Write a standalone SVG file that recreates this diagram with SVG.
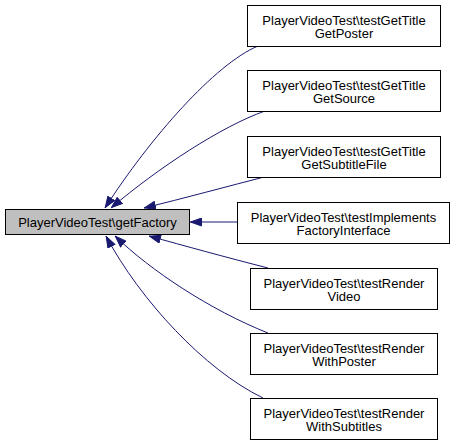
<svg xmlns="http://www.w3.org/2000/svg" width="455" height="444" viewBox="0 0 455 444">
<style>
.node rect{fill:#ffffff;stroke:#000000;stroke-width:1}
.main rect{fill:#bfbfbf}
text{font-family:"Liberation Sans",Arial,sans-serif;font-size:13px;fill:#000000;text-anchor:middle}
.edge{fill:none;stroke:#191970;stroke-width:1}
</style>
<defs>
<marker id="arr" viewBox="0 0 12 9" refX="12" refY="4.5" markerWidth="12" markerHeight="9" markerUnits="userSpaceOnUse" orient="auto">
<path d="M0.5,0.5 L11.5,4.5 L0.5,8.5 Z" fill="#191970" stroke="#191970" stroke-width="1"/>
</marker>
</defs>
<g id="connectors">
<path class="edge" marker-end="url(#arr)" d="M258,46 C215,64 150,138 105,208"/>
<path class="edge" marker-end="url(#arr)" d="M265,111 C222,126 158,168 111,208"/>
<path class="edge" marker-end="url(#arr)" d="M268,176 C225,187 185,198 144,208"/>
<path class="edge" marker-end="url(#arr)" d="M237,222 L190,222"/>
<path class="edge" marker-end="url(#arr)" d="M268,268 C225,257 185,246 149,236"/>
<path class="edge" marker-end="url(#arr)" d="M268,333 C210,310 150,270 115,236"/>
<path class="edge" marker-end="url(#arr)" d="M263,398 C205,370 140,300 106,236"/>
</g>
<g id="node-main" class="node main">
<rect x="5.5" y="209.5" width="184" height="25"/>
<text x="97.5" y="226.5">PlayerVideoTest\getFactory</text>
</g>
<g id="node-1" class="node">
<rect x="247.5" y="5.5" width="193" height="41"/>
<text x="344" y="24.5">PlayerVideoTest\testGetTitle</text>
<text x="344" y="38">GetPoster</text>
</g>
<g id="node-2" class="node">
<rect x="247.5" y="70.5" width="193" height="41"/>
<text x="344" y="89.5">PlayerVideoTest\testGetTitle</text>
<text x="344" y="103">GetSource</text>
</g>
<g id="node-3" class="node">
<rect x="247.5" y="136.5" width="193" height="41"/>
<text x="344" y="155.5">PlayerVideoTest\testGetTitle</text>
<text x="344" y="169">GetSubtitleFile</text>
</g>
<g id="node-4" class="node">
<rect x="237.5" y="202.5" width="212" height="41"/>
<text x="343.5" y="221.5">PlayerVideoTest\testImplements</text>
<text x="343.5" y="235">FactoryInterface</text>
</g>
<g id="node-5" class="node">
<rect x="250.5" y="268.5" width="187" height="41"/>
<text x="344" y="287.5">PlayerVideoTest\testRender</text>
<text x="344" y="301">Video</text>
</g>
<g id="node-6" class="node">
<rect x="250.5" y="333.5" width="187" height="41"/>
<text x="344" y="352.5">PlayerVideoTest\testRender</text>
<text x="344" y="366">WithPoster</text>
</g>
<g id="node-7" class="node">
<rect x="250.5" y="398.5" width="187" height="41"/>
<text x="344" y="417.5">PlayerVideoTest\testRender</text>
<text x="344" y="431">WithSubtitles</text>
</g>
</svg>
